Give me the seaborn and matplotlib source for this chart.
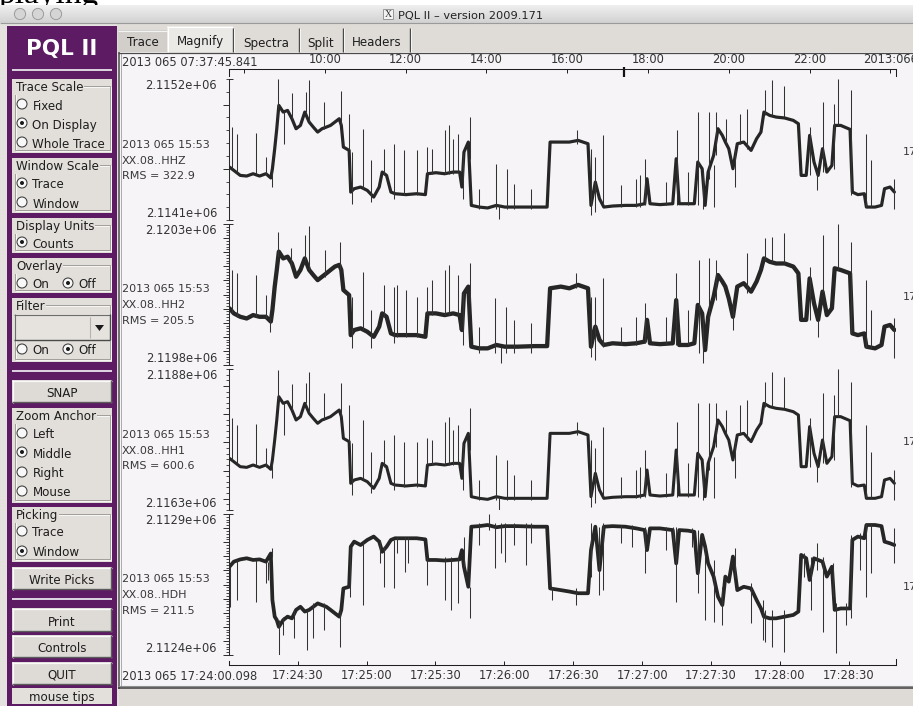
import numpy as np
import matplotlib
matplotlib.use("Agg")
import matplotlib.pyplot as plt
import matplotlib.transforms as mtransforms
from matplotlib.colors import LinearSegmentedColormap
from matplotlib.patches import Rectangle, Circle, Polygon
from matplotlib.ticker import MultipleLocator
import seaborn as sns

sns.set_theme(style="white")
plt.rcParams["font.family"] = ["DejaVu Sans"]

# ---------------------------------------------------------------- data ----
# Magnified window: seconds after 2013 065 17:24:00.098
window_start_label = "2013 065 17:24:00.098"
window_length_s = 290.4
bottom_tick_s = [29.902, 59.902, 89.902, 119.902, 149.902, 179.902, 209.902, 239.902, 269.902]
bottom_tick_labels = ["17:24:30", "17:25:00", "17:25:30", "17:26:00", "17:26:30",
                      "17:27:00", "17:27:30", "17:28:00", "17:28:30"]

# Overview strip: decimal hours of day 065
overview_start_label = "2013 065 07:37:45.841"
overview_start_h = 7.62940
overview_end_h = 24.14
window_start_h = 17.40003
top_tick_h = [8, 10, 12, 14, 16, 18, 20, 22, 24]
top_tick_labels = ["", "10:00", "12:00", "14:00", "16:00", "18:00", "20:00", "22:00", "2013:066"]

channels = ["XX.08..HHZ", "XX.08..HH2", "XX.08..HH1", "XX.08..HDH"]
start_stamp = "2013 065 15:53"
rms = [322.9, 205.5, 600.6, 211.5]
y_low = [2114100, 2119800, 2116300, 2112400]
y_high = [2115200, 2120300, 2118800, 2112900]
minor_step = [100, 10, 100, 10]
major_step = [500, 50, 500, 50]

# sample times of the trace envelope centre line (s)
band_t = [0.2, 2.1, 4.9, 7.7, 10.5, 13.3, 16.1, 18.2, 18.9, 19.9,
          20.8, 21.7, 23.6, 25.5, 27.4, 29.2, 31.1, 33.0, 34.9, 36.7,
          38.6, 40.5, 42.4, 44.2, 46.1, 48.0, 48.9, 49.8, 52.3, 53.0,
          54.5, 57.3, 60.2, 63.0, 65.4, 66.7, 68.6, 70.5, 72.3, 77.0,
          81.7, 85.5, 86.4, 90.1, 93.9, 97.6, 100.4, 101.4, 102.3, 104.2,
          105.5, 108.9, 112.6, 116.4, 120.1, 125.7, 133.2, 138.5, 139.8, 144.5,
          148.2, 152.0, 156.3, 157.6, 159.5, 161.3, 163.2, 167.0, 172.6, 177.3,
          181.0, 182.0, 183.3, 187.6, 193.2, 194.7, 196.0, 199.8, 202.6, 204.1,
          206.0, 207.3, 208.6, 211.0, 212.9, 214.8, 216.1, 217.6, 219.4, 221.3,
          224.1, 227.3, 229.7, 231.6, 232.9, 235.4, 238.2, 241.9, 245.7, 247.9,
          249.1, 251.3, 252.8, 254.7, 256.5, 258.4, 260.3, 262.5, 263.7, 266.3,
          270.4, 271.4, 273.8, 276.6, 277.5, 281.3, 284.1, 285.4, 287.8, 289.7]

hhz_band = [2114513, 2114487, 2114448, 2114443, 2114461, 2114443, 2114461, 2114428, 2114500, 2114656,
            2114812, 2114994, 2114942, 2114955, 2114890, 2114812, 2114838, 2114942, 2114864, 2114825,
            2114786, 2114812, 2114825, 2114838, 2114864, 2114890, 2114838, 2114669, 2114643, 2114318,
            2114344, 2114357, 2114331, 2114279, 2114357, 2114474, 2114448, 2114318, 2114305, 2114298,
            2114305, 2114298, 2114461, 2114469, 2114461, 2114474, 2114474, 2114357, 2114630, 2114708,
            2114214, 2114201, 2114194, 2114214, 2114201, 2114201, 2114201, 2114201, 2114708, 2114708,
            2114708, 2114721, 2114695, 2114214, 2114396, 2114266, 2114201, 2114209, 2114214, 2114214,
            2114227, 2114422, 2114227, 2114220, 2114227, 2114578, 2114227, 2114227, 2114227, 2114552,
            2114500, 2114214, 2114474, 2114604, 2114812, 2114760, 2114708, 2114656, 2114500, 2114695,
            2114708, 2114643, 2114734, 2114786, 2114942, 2114916, 2114903, 2114896, 2114877, 2114851,
            2114448, 2114448, 2114760, 2114552, 2114448, 2114656, 2114474, 2114526, 2114838, 2114838,
            2114807, 2114318, 2114298, 2114305, 2114201, 2114201, 2114214, 2114344, 2114357, 2114318]

hh2_band = [2120001, 2119983, 2119971, 2119965, 2119977, 2119971, 2119971, 2119954, 2119995, 2120078,
            2120137, 2120202, 2120178, 2120184, 2120160, 2120113, 2120137, 2120178, 2120137, 2120119,
            2120101, 2120113, 2120125, 2120137, 2120149, 2120155, 2120137, 2120066, 2120048, 2119906,
            2119924, 2119930, 2119918, 2119900, 2119936, 2119983, 2119971, 2119912, 2119906, 2119906,
            2119906, 2119900, 2119983, 2119983, 2119977, 2119983, 2119977, 2119924, 2120054, 2120078,
            2119865, 2119859, 2119859, 2119871, 2119865, 2119865, 2119867, 2119867, 2120072, 2120078,
            2120072, 2120084, 2120072, 2119865, 2119936, 2119889, 2119871, 2119877, 2119874, 2119877,
            2119883, 2119960, 2119877, 2119874, 2119877, 2120030, 2119871, 2119871, 2119877, 2120013,
            2119983, 2119853, 2119971, 2120042, 2120119, 2120096, 2120078, 2120036, 2119971, 2120078,
            2120090, 2120060, 2120096, 2120137, 2120178, 2120166, 2120160, 2120160, 2120149, 2120125,
            2119960, 2119960, 2120107, 2120019, 2119960, 2120060, 2119977, 2120001, 2120143, 2120137,
            2120125, 2119912, 2119906, 2119912, 2119865, 2119859, 2119871, 2119936, 2119942, 2119924]

hh1_band = [2117216, 2117157, 2117068, 2117056, 2117098, 2117056, 2117098, 2117021, 2117187, 2117541,
            2117896, 2118309, 2118191, 2118221, 2118073, 2117896, 2117955, 2118191, 2118014, 2117925,
            2117837, 2117896, 2117925, 2117955, 2118014, 2118073, 2117955, 2117571, 2117512, 2116773,
            2116832, 2116861, 2116802, 2116684, 2116861, 2117127, 2117068, 2116773, 2116743, 2116726,
            2116743, 2116726, 2117098, 2117116, 2117098, 2117127, 2117127, 2116861, 2117482, 2117659,
            2116536, 2116507, 2116489, 2116536, 2116507, 2116507, 2116507, 2116507, 2117659, 2117659,
            2117659, 2117689, 2117630, 2116536, 2116950, 2116655, 2116507, 2116525, 2116536, 2116536,
            2116566, 2117009, 2116566, 2116548, 2116566, 2117364, 2116566, 2116566, 2116566, 2117305,
            2117187, 2116536, 2117127, 2117423, 2117896, 2117778, 2117659, 2117541, 2117187, 2117630,
            2117659, 2117512, 2117718, 2117837, 2118191, 2118132, 2118103, 2118085, 2118043, 2117984,
            2117068, 2117068, 2117778, 2117305, 2117068, 2117541, 2117127, 2117246, 2117955, 2117955,
            2117884, 2116773, 2116726, 2116743, 2116507, 2116507, 2116536, 2116832, 2116861, 2116773]

hdh_band = [2112713, 2112731, 2112739, 2112743, 2112737, 2112739, 2112731, 2112760, 2112595, 2112536,
            2112524, 2112500, 2112524, 2112536, 2112530, 2112560, 2112571, 2112554, 2112560, 2112571,
            2112583, 2112577, 2112571, 2112560, 2112548, 2112536, 2112560, 2112636, 2112642, 2112784,
            2112802, 2112790, 2112808, 2112820, 2112802, 2112766, 2112784, 2112808, 2112814, 2112814,
            2112814, 2112810, 2112737, 2112737, 2112735, 2112737, 2112739, 2112772, 2112713, 2112642,
            2112855, 2112857, 2112861, 2112853, 2112857, 2112857, 2112855, 2112855, 2112636, 2112630,
            2112625, 2112619, 2112619, 2112772, 2112855, 2112701, 2112855, 2112857, 2112855, 2112849,
            2112843, 2112772, 2112849, 2112849, 2112843, 2112725, 2112843, 2112841, 2112837, 2112690,
            2112826, 2112784, 2112725, 2112678, 2112607, 2112577, 2112678, 2112660, 2112749, 2112630,
            2112642, 2112636, 2112595, 2112565, 2112536, 2112530, 2112530, 2112536, 2112542, 2112554,
            2112755, 2112743, 2112666, 2112743, 2112737, 2112731, 2112678, 2112713, 2112560, 2112565,
            2112565, 2112808, 2112820, 2112814, 2112861, 2112861, 2112857, 2112802, 2112796, 2112790]

# isolated excursions: time, lowest and highest count of each spike
hhz_spike_t = [1.1, 3.6, 11.8, 16.1, 18.6, 21.4, 24.0, 27.4, 33.5, 34.7, 41.4, 48.9, 52.3, 53.6,
               58.3, 62.0, 67.6, 71.8, 76.1, 81.7, 86.4, 88.3, 93.9, 95.8, 97.6, 99.5, 101.8,
               104.8, 108.9, 116.4, 117.7, 121.1, 123.9, 131.7, 151.6, 157.6, 159.5, 162.9,
               170.7, 177.3, 179.1, 181.0, 190.4, 195.1, 199.8, 204.1, 206.3, 209.1, 211.0,
               211.9, 216.6, 220.4, 222.3, 225.4, 233.5, 236.3, 241.6, 252.8, 256.0, 258.4,
               263.5, 265.2, 271.0, 277.2, 279.4, 289.7]
hhz_spike_hi = [2114825, 2114773, 2114781, 2114591, 2114474, 2115200, 2114942, 2115093, 2115098, 2115189,
                2115020, 2115104, 2114929, 2114630, 2114812, 2114565, 2114656, 2114695, 2114643, 2114643,
                2114669, 2114656, 2114799, 2114838, 2114734, 2114773, 2114617, 2114903, 2114344, 2114539,
                2114214, 2114500, 2114383, 2114344, 2114799, 2114656, 2114591, 2114760, 2114370, 2114422,
                2114448, 2114578, 2114396, 2114799, 2114474, 2114942, 2114474, 2114942, 2114526, 2114942,
                2114890, 2114656, 2114929, 2114968, 2115111, 2115189, 2115145, 2114825, 2114474, 2115020,
                2115007, 2115200, 2115111, 2114773, 2114565, 2114422]
hhz_spike_lo = [2114500, 2114474, 2114461, 2114448, 2114357, 2114968, 2114695, 2114890, 2114942, 2114864,
                2114812, 2114838, 2114643, 2114227, 2114344, 2114240, 2114448, 2114266, 2114292, 2114292,
                2114461, 2114461, 2114461, 2114461, 2114461, 2114474, 2114266, 2114578, 2114188, 2114188,
                2114110, 2114188, 2114188, 2114188, 2114695, 2114136, 2114162, 2114214, 2114201, 2114201,
                2114201, 2114214, 2114214, 2114214, 2114214, 2114214, 2114188, 2114422, 2114201, 2114604,
                2114695, 2114357, 2114695, 2114656, 2114916, 2114916, 2114903, 2114448, 2114331, 2114474,
                2114500, 2114838, 2114292, 2114201, 2114201, 2114188]

hh2_spike_t = [1.1, 3.6, 11.8, 16.1, 18.0, 21.4, 26.8, 33.2, 34.7, 41.8, 48.5, 53.6, 58.3, 62.0,
               67.6, 71.8, 73.3, 77.0, 81.7, 86.0, 88.3, 93.9, 95.8, 99.5, 101.8, 104.8, 108.9,
               116.0, 118.3, 120.5, 124.2, 131.4, 151.0, 157.6, 159.5, 162.9, 170.7, 177.3, 181.0,
               190.4, 194.7, 199.8, 204.5, 206.3, 209.1, 211.9, 219.4, 225.4, 233.5, 236.3, 241.6,
               252.8, 256.5, 258.4, 265.2, 271.0, 277.2, 279.4, 289.7]
hh2_spike_hi = [2120137, 2120125, 2120119, 2120048, 2119971, 2120273, 2120214, 2120261, 2120293, 2120208,
                2120237, 2120042, 2120131, 2119995, 2120084, 2120078, 2120084, 2120066, 2120042, 2120078,
                2120101, 2120137, 2120155, 2120119, 2120054, 2120160, 2119936, 2120036, 2119865, 2120007,
                2119960, 2119948, 2120125, 2120042, 2120042, 2120107, 2119936, 2119971, 2120019, 2119971,
                2120125, 2119995, 2120172, 2119971, 2120178, 2120172, 2120019, 2120196, 2120249, 2120255,
                2120267, 2120149, 2119960, 2120261, 2120300, 2120237, 2120101, 2119995, 2119965]
hh2_spike_lo = [2119983, 2119971, 2119971, 2119965, 2119918, 2120184, 2120149, 2120172, 2120137, 2120113,
                2120137, 2119859, 2119924, 2119859, 2119971, 2119877, 2119900, 2119900, 2119900, 2119983,
                2119977, 2119977, 2119977, 2119977, 2119871, 2120019, 2119841, 2119841, 2119806, 2119841,
                2119841, 2119841, 2120072, 2119830, 2119818, 2119865, 2119871, 2119871, 2119877, 2119871,
                2119871, 2119871, 2119841, 2119806, 2119960, 2120030, 2119924, 2120054, 2120172, 2120166,
                2120160, 2119960, 2119900, 2120060, 2120137, 2119912, 2119859, 2119859, 2119824]

hh1_spike_t = hhz_spike_t
hh1_spike_hi = [2117925, 2117807, 2117825, 2117393, 2117127, 2118782, 2118191, 2118534, 2118546, 2118753,
                2118369, 2118558, 2118162, 2117482, 2117896, 2117334, 2117541, 2117630, 2117512, 2117512,
                2117571, 2117541, 2117866, 2117955, 2117718, 2117807, 2117452, 2118103, 2116832, 2117275,
                2116536, 2117187, 2116921, 2116832, 2117866, 2117541, 2117393, 2117778, 2116891, 2117009,
                2117068, 2117364, 2116950, 2117866, 2117127, 2118191, 2117127, 2118191, 2117246, 2118191,
                2118073, 2117541, 2118162, 2118250, 2118575, 2118753, 2118652, 2117925, 2117127, 2118369,
                2118339, 2118800, 2118575, 2117807, 2117334, 2117009]
hh1_spike_lo = [2117187, 2117127, 2117098, 2117068, 2116861, 2118250, 2117630, 2118073, 2118191, 2118014,
                2117896, 2117955, 2117512, 2116566, 2116832, 2116596, 2117068, 2116655, 2116714, 2116714,
                2117098, 2117098, 2117098, 2117098, 2117098, 2117127, 2116655, 2117364, 2116477, 2116477,
                2116300, 2116477, 2116477, 2116477, 2117630, 2116359, 2116418, 2116536, 2116507, 2116507,
                2116507, 2116536, 2116536, 2116536, 2116536, 2116536, 2116477, 2117009, 2116507, 2117423,
                2117630, 2116861, 2117630, 2117541, 2118132, 2118132, 2118103, 2117068, 2116802, 2117127,
                2117187, 2117955, 2116714, 2116507, 2116507, 2116477]

hdh_spike_t = [0.6, 3.6, 11.8, 16.1, 17.1, 18.6, 21.7, 23.6, 28.3, 33.9, 36.7, 41.4, 48.5, 52.7,
               58.3, 65.8, 67.7, 71.8, 73.3, 76.6, 78.0, 86.4, 93.9, 96.7, 99.5, 102.3, 104.8,
               108.9, 113.0, 116.0, 118.3, 120.1, 124.2, 129.5, 131.4, 140.7, 151.0, 157.6, 161.3,
               162.9, 170.7, 175.4, 181.0, 190.4, 193.2, 194.7, 201.6, 204.1, 207.3, 211.0, 214.8,
               220.4, 227.3, 232.6, 233.5, 236.3, 241.6, 250.4, 253.2, 256.0, 258.4, 262.9, 264.4,
               268.7, 271.0, 274.7, 277.2, 279.4, 289.7]
hdh_spike_hi = [2112713, 2112737, 2112737, 2112731, 2112731, 2112778, 2112524, 2112536, 2112560, 2112560,
                2112583, 2112583, 2112560, 2112784, 2112802, 2112808, 2112784, 2112808, 2112820, 2112820,
                2112820, 2112749, 2112749, 2112749, 2112749, 2112820, 2112642, 2112867, 2112900, 2112867,
                2112867, 2112867, 2112867, 2112867, 2112867, 2112642, 2112636, 2112867, 2112855, 2112867,
                2112861, 2112861, 2112855, 2112855, 2112855, 2112855, 2112849, 2112843, 2112784, 2112737,
                2112642, 2112778, 2112654, 2112595, 2112560, 2112560, 2112560, 2112760, 2112749, 2112796,
                2112749, 2112725, 2112583, 2112583, 2112826, 2112831, 2112867, 2112867, 2112849]
hdh_spike_lo = [2112571, 2112595, 2112589, 2112654, 2112666, 2112749, 2112400, 2112471, 2112459, 2112418,
                2112459, 2112489, 2112430, 2112607, 2112577, 2112725, 2112642, 2112636, 2112760, 2112696,
                2112725, 2112648, 2112595, 2112560, 2112583, 2112713, 2112530, 2112790, 2112843, 2112707,
                2112760, 2112731, 2112790, 2112719, 2112796, 2112595, 2112577, 2112678, 2112613, 2112630,
                2112796, 2112784, 2112690, 2112772, 2112796, 2112589, 2112784, 2112619, 2112524, 2112518,
                2112506, 2112678, 2112512, 2112453, 2112447, 2112430, 2112412, 2112678, 2112560, 2112701,
                2112483, 2112607, 2112406, 2112506, 2112530, 2112701, 2112607, 2112690, 2112725]

bands = [hhz_band, hh2_band, hh1_band, hdh_band]
spikes = [(hhz_spike_t, hhz_spike_lo, hhz_spike_hi),
          (hh2_spike_t, hh2_spike_lo, hh2_spike_hi),
          (hh1_spike_t, hh1_spike_lo, hh1_spike_hi),
          (hdh_spike_t, hdh_spike_lo, hdh_spike_hi)]
band_width_pt = [2.3, 3.1, 2.2, 2.7]

# ------------------------------------------------------------- styling ----
W, H, DPI = 913, 706, 100
PURPLE = "#5c1b62"
GROUP = "#e2dfdb"
BAR = "#dfdcd8"
CONTENT = "#f6f4f7"
INK = "#1e1e1e"
PLOT_INK = "#383838"
TRACE = "#262626"

fig = plt.figure(figsize=(W / DPI, H / DPI), dpi=DPI)
fig.patch.set_facecolor("white")

gui = fig.add_axes([0, 0, 1, 1])
gui.axis("off")


def frect(x0, y0, x1, y1):
    return [x0 / W, 1 - y1 / H, (x1 - x0) / W, (y1 - y0) / H]


def box(x0, y0, x1, y1, fc, ec="none", lw=0.0, z=1):
    gui.add_patch(Rectangle((x0, y0), x1 - x0, y1 - y0, facecolor=fc,
                            edgecolor=ec, linewidth=lw, zorder=z))


def hl(x0, x1, y, color, lw=0.8, z=3):
    gui.plot([x0, x1], [y, y], color=color, lw=lw, solid_capstyle="butt", zorder=z)


def vl(x, y0, y1, color, lw=0.8, z=3):
    gui.plot([x, x], [y0, y1], color=color, lw=lw, solid_capstyle="butt", zorder=z)


def label(x, y, s, size=8.6, color=INK, ha="left", weight="normal", z=6, **kw):
    gui.text(x, y, s, fontsize=size, color=color, ha=ha, va="center_baseline",
             fontweight=weight, zorder=z, **kw)


def radio(x, y, s, on):
    gui.add_patch(Circle((x, y), 5.0, facecolor="#f8f8f8", edgecolor="#3a3a3a", lw=0.75, zorder=5))
    if on:
        gui.add_patch(Circle((x, y), 2.0, facecolor="#1a1a1a", edgecolor="none", zorder=6))
    label(x + 10.5, y + 0.5, s)


def group(y0, y1, title):
    box(12, y0, 112, y1, GROUP, z=2)
    ty = y0 + 7
    gui.add_patch(Rectangle((14.5, ty), 95, y1 - ty - 3, facecolor="none",
                            edgecolor="#a19d99", lw=0.7, zorder=3))
    gui.add_patch(Rectangle((15.5, ty + 1), 95, y1 - ty - 3, facecolor="none",
                            edgecolor="#fbfbfb", lw=0.6, zorder=2.5))
    gui.text(16, ty, title, fontsize=8.6, color=INK, ha="left", va="center_baseline", zorder=6,
             bbox=dict(facecolor=GROUP, edgecolor="none", pad=0.6))


def button(y0, y1, s, fc="#dedbd7", shade=True):
    box(12, y0, 112, y1, fc, z=2)
    if shade:
        hl(12, 112, y0 + 0.5, "#fafafa", lw=0.9)
        vl(12.5, y0, y1, "#fafafa", lw=0.9)
        hl(12, 112, y1 - 0.6, "#5c5c5c", lw=1.0)
        vl(111.4, y0, y1, "#5c5c5c", lw=1.0)
    label(62, (y0 + y1) / 2 + 0.5, s, ha="center")


# page text peeking above the window
gui.text(-2, 3.2, "playing", family="Liberation Serif", fontsize=24, color="black",
         va="baseline", zorder=0.5)

# title bar
grad = np.linspace(0, 1, 32)[:, None]
gui.imshow(grad, extent=(0, W, 23, 5), origin="upper", aspect="auto", zorder=1,
           cmap=LinearSegmentedColormap.from_list("tb", ["#efefef", "#d2d2d2"]))
hl(0, W, 23, "#9a9a9a", lw=0.8)
for cx in (20, 38, 56):
    gui.add_patch(Circle((cx, 14), 5.6, facecolor="#d5d5d5", edgecolor="#9b9b9b", lw=0.7, zorder=4))
box(383, 9, 393, 19, "#f3f3f3", ec="#8a8a8a", lw=0.6, z=4)
gui.text(388, 14.3, "X", fontsize=7, family="Liberation Serif", ha="center", va="center",
         color="#333333", zorder=5)
label(398, 14.5, "PQL II \u2013 version 2009.171", size=8.2, color="#222222")

# window body
box(0, 23.5, W, H, "#e4e1de", z=0.8)

# left control column
box(7, 26, 117, H, PURPLE, z=1)
label(62, 47.5, "PQL II", size=15.5, color="white", ha="center", weight="bold")
for sy in (70, 371, 599):
    hl(12, 112, sy, "#e9e5ec", lw=1.3)

group(79, 153, "Trace Scale")
radio(22, 104, "Fixed", False)
radio(22, 123, "On Display", True)
radio(22, 142, "Whole Trace", False)

group(158, 213, "Window Scale")
radio(22, 183, "Trace", True)
radio(22, 202, "Window", False)

group(218, 253, "Display Units")
radio(22, 242, "Counts", True)

group(258, 293, "Overlay")
radio(22, 283, "On", False)
radio(68, 283, "Off", True)

group(298, 362, "Filter")
box(14, 314, 110, 340, "#e6e3df", z=4)
hl(14, 110, 314.5, "#6d6d6d", lw=0.8, z=5)
vl(14.5, 314, 340, "#6d6d6d", lw=0.8, z=5)
vl(89.5, 317, 338, "#b5b1ad", lw=0.8, z=5)
vl(109.5, 314, 340, "#4a4a4a", lw=1.0, z=5)
hl(14, 110, 339.5, "#4a4a4a", lw=1.0, z=5)
gui.add_patch(Polygon([[95, 325], [104, 325], [99.5, 331]], closed=True,
                      facecolor="#1a1a1a", edgecolor="none", zorder=6))
radio(22, 349, "On", False)
radio(68, 349, "Off", True)

button(380, 403, "SNAP")
group(408, 503, "Zoom Anchor")
radio(22, 433, "Left", False)
radio(22, 452, "Middle", True)
radio(22, 472, "Right", False)
radio(22, 491, "Mouse", False)

group(507, 562, "Picking")
radio(22, 531, "Trace", False)
radio(22, 551, "Window", True)

button(567, 590, "Write Picks")
button(608, 632, "Print")
button(635, 658, "Controls")
button(662, 685, "QUIT")
button(688, 704, "mouse tips", fc="#e3e0dc", shade=False)

# notebook tabs
box(117, 23.5, W, 52, BAR, z=1)
box(118, 30, 167, 52, "#d2cfcb", z=2)
hl(118, 167, 30.5, "#f4f4f4", lw=0.8)
box(167, 26, 233, 53, "#ebe9e6", z=2.2)
hl(167, 233, 26.5, "#ffffff", lw=0.8)
vl(167.5, 26, 53, "#ffffff", lw=0.8)
tabs = [("Trace", 142.5, 41.5), ("Magnify", 200, 40.5), ("Spectra", 266, 41.5),
        ("Split", 321, 41.5), ("Headers", 376.5, 41.5)]
for name, tx, ty in tabs:
    label(tx, ty, name, ha="center")
for sx in (233, 299, 343, 410):
    vl(sx - 0.5, 28, 52, "#4a4a4a", lw=1.0, z=4)
    vl(sx + 1, 28, 52, "#f7f7f7", lw=0.7, z=4)

# drawing area
box(118, 52, W, 687, CONTENT, z=1.5)
vl(118.5, 52, 689, "#4b4b4b", lw=1.1, z=4)
vl(120.5, 53, 687, "#9e9e9e", lw=0.6, z=4)
hl(118, W, 52.6, "#4b4b4b", lw=0.9, z=4)
hl(118, W, 686.3, "#8f8f8f", lw=0.8, z=4)
hl(118, W, 688.0, "#3d3d3d", lw=1.1, z=4)
box(119, 689, W, H, "#dedbd7", z=1.5)

gui.set_xlim(0, W)
gui.set_ylim(H, 0)

# ------------------------------------------------------------ overview ----
ax_top = fig.add_axes(frect(229, 69, 896, 76))
ax_top.set_facecolor("none")
ax_top.set_xlim(overview_start_h, overview_end_h)
ax_top.set_ylim(0, 1)
ax_top.xaxis.tick_top()
ax_top.set_xticks(top_tick_h)
ax_top.set_xticklabels(top_tick_labels)
ax_top.set_yticks([])
ax_top.tick_params(axis="x", which="major", direction="in", length=2.6, width=0.7,
                   color=INK, top=True, bottom=False, labeltop=True, labelbottom=False,
                   labelsize=8.3, labelcolor="#333333", pad=2.2)
for side in ("top", "left", "right"):
    ax_top.spines[side].set_visible(True)
    ax_top.spines[side].set_color(INK)
    ax_top.spines[side].set_linewidth(0.75)
ax_top.spines["bottom"].set_visible(False)
mark = mtransforms.blended_transform_factory(ax_top.transData, ax_top.transAxes)
ax_top.plot([window_start_h, window_start_h], [1.35, -0.1], transform=mark,
            color="#111111", lw=1.6, clip_on=False, solid_capstyle="butt")
label(122, 61.5, overview_start_label, size=8.3, color="#333333")

# --------------------------------------------------------------- traces ----
panel_top = [79, 224, 369, 514]
panel_h = 141
for i in range(4):
    top = panel_top[i]
    ax = fig.add_axes(frect(229, top, 896, top + panel_h))
    ax.set_facecolor("none")
    sns.lineplot(x=band_t, y=bands[i], ax=ax, color=TRACE, linewidth=band_width_pt[i],
                 estimator=None, sort=False, legend=False, solid_joinstyle="round")
    st, slo, shi = spikes[i]
    ax.vlines(st, slo, shi, color="#333333", linewidth=0.75, zorder=3)
    ax.set_xlim(0, window_length_s)
    ax.set_ylim(y_low[i], y_high[i])
    ax.set_xlabel("")
    ax.set_ylabel("")
    for side in ("top", "right", "bottom"):
        ax.spines[side].set_visible(False)
    ax.spines["left"].set_color("#2a2a2a")
    ax.spines["left"].set_linewidth(0.75)
    ax.yaxis.set_major_locator(MultipleLocator(major_step[i]))
    ax.yaxis.set_minor_locator(MultipleLocator(minor_step[i]))
    ax.tick_params(axis="y", which="major", direction="out", length=4.6, width=0.7,
                   color="#2a2a2a", left=True, labelleft=False)
    ax.tick_params(axis="y", which="minor", direction="out", length=2.3, width=0.6,
                   color="#2a2a2a", left=True)
    ax.tick_params(axis="x", which="both", bottom=False, labelbottom=False)
    stub = mtransforms.blended_transform_factory(ax.transAxes, ax.transData)
    for yv in (y_low[i], y_high[i]):
        ax.plot([0, 0.006], [yv, yv], transform=stub, color="#2a2a2a", lw=0.7,
                clip_on=False, solid_capstyle="butt")
    ax.annotate(f"{y_high[i]:.4e}", xy=(0, y_high[i]), xycoords=("axes fraction", "data"),
                xytext=(-12, 0), textcoords="offset pixels", ha="right", va="top",
                fontsize=8.3, color="#333333", annotation_clip=False)
    ax.annotate(f"{y_low[i]:.4e}", xy=(0, y_low[i]), xycoords=("axes fraction", "data"),
                xytext=(-12, 0), textcoords="offset pixels", ha="right", va="bottom",
                fontsize=8.3, color="#333333", annotation_clip=False)
    label(122, top + 64.5, start_stamp, size=8.0, color=PLOT_INK)
    label(122, top + 80.5, channels[i], size=8.0, color=PLOT_INK)
    label(122, top + 96, f"RMS = {rms[i]}", size=8.0, color=PLOT_INK)
    label(903, top + 72, "17:26:25", size=8.0, color=PLOT_INK)

# ---------------------------------------------------------- time axis ----
ax_bot = fig.add_axes(frect(229, 659, 896, 665))
ax_bot.set_facecolor("none")
ax_bot.set_xlim(0, window_length_s)
ax_bot.set_ylim(0, 1)
ax_bot.set_xticks(bottom_tick_s)
ax_bot.set_xticklabels(bottom_tick_labels)
ax_bot.set_yticks([])
ax_bot.tick_params(axis="x", which="major", direction="in", length=2.6, width=0.7,
                   color=INK, bottom=True, labelsize=8.3, labelcolor="#333333", pad=2.6)
for side in ("bottom", "left", "right"):
    ax_bot.spines[side].set_visible(True)
    ax_bot.spines[side].set_color(INK)
    ax_bot.spines[side].set_linewidth(0.75)
ax_bot.spines["top"].set_visible(False)
ax_bot.spines["left"].set_bounds(0, 0.6)
label(122, 675, window_start_label, size=8.3, color="#333333")

fig.savefig("out.png", dpi=DPI)
